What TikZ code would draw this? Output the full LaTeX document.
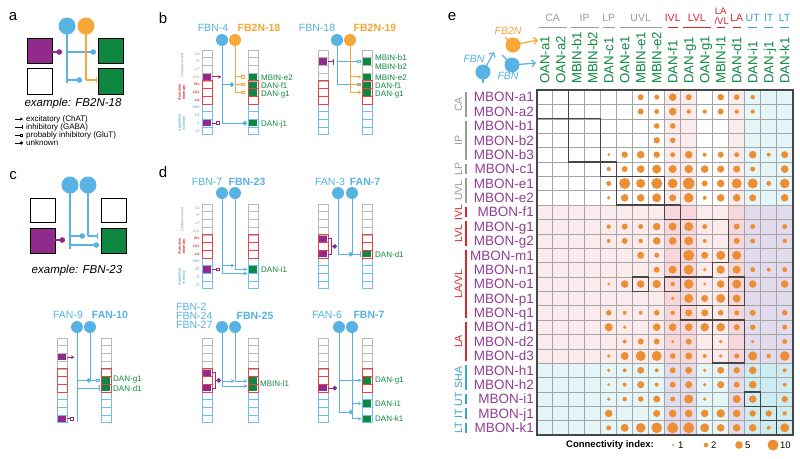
\documentclass[tikz,border=0pt]{standalone}
\usepackage{fontspec}
\setmainfont{Liberation Sans}
\usetikzlibrary{arrows.meta}
\definecolor{nblue}{RGB}{88,178,228}
\definecolor{norange}{RGB}{245,168,55}
\definecolor{npurple}{RGB}{146,42,140}
\definecolor{ngreen}{RGB}{14,136,64}
\definecolor{cred}{RGB}{222,36,44}
\definecolor{cgray}{RGB}{155,155,155}
\definecolor{cblue}{RGB}{60,160,210}
\definecolor{dotc}{RGB}{236,142,52}
\definecolor{mbon}{RGB}{146,62,150}
\definecolor{pinkA}{RGB}{252,235,237}
\definecolor{pinkB}{RGB}{247,214,220}
\definecolor{cyanA}{RGB}{229,246,249}
\definecolor{cyanB}{RGB}{206,237,243}
\definecolor{lav}{RGB}{226,219,238}
\definecolor{gridc}{RGB}{165,165,165}
\definecolor{boxc}{RGB}{70,70,70}
\newcommand{\myfs}[1]{\fontsize{#1}{#1}\selectfont}
\tikzset{
 plab/.style={font=\myfs{15}, inner sep=0},
 nlab/.style={font=\myfs{10.5}, text=nblue, inner sep=0},
 nlabB/.style={font=\myfs{10.5}\bfseries, text=nblue, inner sep=0},
 olabB/.style={font=\myfs{10.5}\bfseries, text=norange, inner sep=0},
 glab/.style={font=\myfs{8}, text=ngreen, anchor=west, inner sep=0},
 nbt/.style={draw=nblue, line width=1pt},
 obt/.style={draw=norange, line width=1pt},
 npt/.style={draw=npurple, line width=1pt},
 nbw/.style={draw=nblue, line width=1.5pt},
 obw/.style={draw=norange, line width=1.5pt},
 npw/.style={draw=npurple, line width=1.5pt},
 exc/.style={-{Stealth[length=3.5pt,width=3.5pt]}},
 inh/.style={-{Bar[width=6pt]}},
 pinh/.style={-{Square[open,length=3.6pt,width=3.6pt]}},
 unk/.style={-{Circle[length=4.5pt]}},
 unkw/.style={-{Circle[length=5.5pt]}},
 barb/.style={-{Straight Barb[length=3.5pt,width=7pt]}},
 gcell/.style={draw=gray!55, line width=0.5pt},
 rcell/.style={draw=cred!85, line width=0.7pt},
 bcell/.style={draw=nblue!85, line width=0.6pt},
 sq/.style={draw=black, line width=0.8pt},
 boxl/.style={draw=boxc, line width=1.4pt},
 collbl/.style={rotate=90, anchor=base west, font=\myfs{13.2}, text=ngreen, inner sep=0},
 rowlbl/.style={anchor=base east, font=\myfs{13.5}, text=mbon, inner sep=0},
}
\newcommand{\mystk}[2]{%
  \foreach \ii in {0,1,2,3}{\draw[gcell] (#1,{#2+\ii*7.7}) rectangle ++(10,7.7);}%
  \foreach \ii in {7,8,9,10}{\draw[bcell] (#1,{#2+\ii*7.7}) rectangle ++(10,7.7);}%
  \foreach \ii in {4,5,6}{\draw[rcell] (#1,{#2+\ii*7.7}) rectangle ++(10,7.7);}%
}
\newcommand{\myfc}[4]{\fill[#4] ({#1+0.7},{#2+(#3-1)*7.7+0.7}) rectangle ({#1+9.3},{#2+#3*7.7-0.7});}
\newcommand{\mylbls}[2]{%
  \foreach \nn [count=\ii] in {CA,IP,LP,UVL}{\node[font=\myfs{3.6}, text=cgray, anchor=east, inner sep=0] at ({#1-2},{#2+(\ii-0.5)*7.7}) {\nn};}%
  \foreach \nn [count=\ii from 5] in {IVL,LVL,LA}{\node[font=\myfs{3.6}\bfseries, text=cred, anchor=east, inner sep=0] at ({#1-2},{#2+(\ii-0.5)*7.7}) {\nn};}%
  \foreach \nn [count=\ii from 8] in {SHA,UT,IT,LT}{\node[font=\myfs{3.6}, text=cblue, anchor=east, inner sep=0] at ({#1-2},{#2+(\ii-0.5)*7.7}) {\nn};}%
  \node[rotate=90, font=\fontsize{3.8}{4.4}\selectfont, text=cgray, align=center, inner sep=0] at ({#1-20},{#2+2*7.7}) {Undetermined};%
  \node[rotate=90, font=\fontsize{3.8}{4.4}\selectfont\bfseries, text=cred, align=center, inner sep=0] at ({#1-20},{#2+5.5*7.7}) {Aversive\\memory};%
  \node[rotate=90, font=\fontsize{3.8}{4.4}\selectfont, text=cblue, align=center, inner sep=0] at ({#1-20},{#2+9.5*7.7}) {Appetitive\\memory};%
}
\newcommand{\mshd}[5]{\fill[#5] ({536.7+16*#1},{90+14.375*#3}) rectangle ({536.7+16*#2},{90+14.375*#4});}
\newcommand{\mbx}[4]{\draw[boxl] ({536.7+16*#1},{90+14.375*#3}) rectangle ({536.7+16*#2},{90+14.375*#4});}
\begin{document}
\begin{tikzpicture}[x=1pt,y=-1pt]
\useasboundingbox (0,0) rectangle (800,458);
\fill[white] (0,0) rectangle (800,458);

% ================= panel a =================
\node[plab] (pa) at (13,17) {a};
\fill[npurple] (27,38) rectangle (52,63); \draw[sq] (27,38) rectangle (52,63);
\draw[sq] (27,68) rectangle (52,94);
\fill[ngreen] (98,38) rectangle (123,63); \draw[sq] (98,38) rectangle (123,63);
\fill[ngreen] (98,68) rectangle (123,94); \draw[sq] (98,68) rectangle (123,94);
\draw[nbw] (67,27) -- (67,83);
\draw[nbw, unkw] (67,52) -- (96,52);
\draw[nbw, unkw] (67,80) -- (82,80);
\draw[obw] (86,27) -- (86,80);
\draw[obw, inh] (86,80) -- (97,80);
\draw[npw, unkw] (52,52) -- (62,52);
\fill[nblue] (67,26) circle[radius=8.5pt];
\fill[norange] (86,26) circle[radius=8.5pt];
\node[font=\myfs{11.5}\itshape, inner sep=0] (exa) at (73,104) {example: FB2N-18};
\draw[line width=0.8pt, -{Stealth[length=3pt,width=3pt]}] (15,119) -- (23,119);
\draw[line width=0.8pt, -{Bar[width=4pt]}] (15,127) -- (23,127);
\draw[line width=0.8pt, -{Square[open,length=3pt,width=3pt]}] (15,135) -- (23,135);
\draw[line width=0.8pt, -{Circle[length=3.2pt]}] (15,143) -- (23,143);
\node[font=\myfs{8}, anchor=west, inner sep=0] at (26,119) {excitatory (ChAT)};
\node[font=\myfs{8}, anchor=west, inner sep=0] at (26,127) {inhibitory (GABA)};
\node[font=\myfs{8}, anchor=west, inner sep=0] at (26,135) {probably inhibitory (GluT)};
\node[font=\myfs{8}, anchor=west, inner sep=0] at (26,143) {unknown};

% ================= panel c =================
\node[plab] (pc) at (13,176) {c};
\draw[sq] (30,198) rectangle (55,222);
\fill[npurple] (30,228) rectangle (55,253); \draw[sq] (30,228) rectangle (55,253);
\draw[sq] (101,198) rectangle (126,222);
\fill[ngreen] (101,228) rectangle (126,253); \draw[sq] (101,228) rectangle (126,253);
\draw[nbw] (70,185) -- (70,249);
\draw[nbw] (88,185) -- (88,236);
\draw[nbw, unkw] (70,236) -- (85,236);
\draw[nbw, inh] (88,236) -- (98,236);
\draw[nbw, unkw] (70,245) -- (99,245);
\draw[npw, unkw] (55,240) -- (65,240);
\fill[nblue] (70,185) circle[radius=8.5pt];
\fill[nblue] (88,185) circle[radius=8.5pt];
\node[font=\myfs{11.5}\itshape, inner sep=0] (exc23) at (77,271) {example: FBN-23};

% ================= panel b =================
\node[plab] (pb) at (163,18) {b};
% FBN-4 / FB2N-18
\node[nlab] at (213,28) {FBN-4};
\node[olabB] at (259,28) {FB2N-18};
\mystk{202}{50} \mystk{248}{50}
\mylbls{202}{50}
\myfc{202}{50}{4}{npurple} \myfc{202}{50}{10}{npurple}
\myfc{248}{50}{4}{ngreen} \myfc{248}{50}{5}{ngreen} \myfc{248}{50}{6}{ngreen} \myfc{248}{50}{10}{ngreen}
\draw[nbt] (222,40) -- (222,124);
\draw[obt] (235,40) -- (235,92.35);
\draw[npt, exc] (212,76.95) -- (221.5,76.95);
\draw[npt, pinh] (212,123.15) -- (220,123.15);
\draw[nbt, unk] (222,123.15) -- (247,123.15);
\foreach \yy in {76.95,84.65,92.35} \draw[obt, pinh] (235,\yy) -- (245,\yy);
\draw[nbt, unk] (222,84.65) -- (234,84.65);
\fill[nblue] (222,40) circle[radius=6pt];
\fill[norange] (235,40) circle[radius=6pt];
\node[glab] at (261,77.3) {MBIN-e2};
\node[glab] at (261,86) {DAN-f1};
\node[glab] at (261,94.3) {DAN-g1};
\node[glab] at (261,124) {DAN-j1};
% FBN-18 / FB2N-19
\node[nlab] at (317,28) {FBN-18};
\node[olabB] at (375,28) {FB2N-19};
\mystk{318}{50} \mystk{362}{50}
\myfc{318}{50}{2}{npurple}
\myfc{362}{50}{2}{ngreen} \myfc{362}{50}{4}{ngreen} \myfc{362}{50}{5}{ngreen} \myfc{362}{50}{6}{ngreen}
\draw[npt, inh] (328,61.55) -- (334,61.55);
\draw[nbt] (337,40) -- (337,84.65);
\draw[nbt, pinh] (337,61.55) -- (361,61.55);
\draw[nbt, pinh] (337,84.65) -- (361,84.65);
\draw[obt] (350,40) -- (350,92.35);
\foreach \yy in {76.95,84.65,92.35} \draw[obt, exc] (350,\yy) -- (361.5,\yy);
\fill[nblue] (337,40) circle[radius=6pt];
\fill[norange] (350,40) circle[radius=6pt];
\node[glab] at (375,57.3) {MBIN-b1};
\node[glab] at (375,66.7) {MBIN-b2};
\node[glab] at (375,77.3) {MBIN-e2};
\node[glab] at (375,86) {DAN-f1};
\node[glab] at (375,94.3) {DAN-g1};

% ================= panel d =================
\node[plab] (pd) at (163,172) {d};
% FBN-7 / FBN-23
\node[nlab] at (207,182) {FBN-7};
\node[nlabB] at (247,182) {FBN-23};
\mystk{202}{204} \mystk{248}{204}
\mylbls{202}{204}
\myfc{202}{204}{9}{npurple} \myfc{248}{204}{9}{ngreen}
\draw[npt, pinh] (212,269.45) -- (219.5,269.45);
\draw[nbt] (222,193) -- (222,273.5);
\draw[nbt] (235,193) -- (235,269.45);
\draw[nbt, exc] (222,265.5) -- (234.5,265.5);
\draw[nbt, exc] (235,269.45) -- (247.5,269.45);
\draw[nbt, exc] (222,273.5) -- (247.5,273.5);
\fill[nblue] (222,193) circle[radius=6pt];
\fill[nblue] (235,193) circle[radius=6pt];
\node[glab] at (261,269.8) {DAN-i1};
% FAN-3 / FAN-7
\node[nlab] at (330,182) {FAN-3};
\node[nlabB] at (365,182) {FAN-7};
\mystk{318}{204} \mystk{362}{204}
\myfc{318}{204}{5}{npurple} \myfc{318}{204}{7}{npurple} \myfc{362}{204}{7}{ngreen}
\draw[npt] (328,238.65) -- (331,238.65) -- (331,254.05) -- (328,254.05);
\draw[npt, unk] (331,246.35) -- (337,246.35);
\draw[nbt] (338,193) -- (338,254.05);
\draw[nbt] (352,193) -- (352,254.05);
\draw[nbt, unk] (338,254.05) -- (353,254.05);
\draw[nbt, inh] (352,254.05) -- (361,254.05);
\fill[nblue] (338,193) circle[radius=6pt];
\fill[nblue] (352,193) circle[radius=6pt];
\node[glab] at (375,254.4) {DAN-d1};
% FAN-9 / FAN-10
\node[nlab] at (68,315) {FAN-9};
\node[nlabB] at (110,315) {FAN-10};
\mystk{57}{338} \mystk{101}{338}
\myfc{57}{338}{3}{npurple} \myfc{57}{338}{11}{npurple}
\myfc{101}{338}{6}{ngreen} \myfc{101}{338}{7}{ngreen}
\draw[npt, exc] (67,357.25) -- (74.5,357.25);
\draw[npt, pinh] (67,418.85) -- (74,418.85);
\draw[nbt] (77,327) -- (77,422);
\draw[nbt] (90,327) -- (90,380.35);
\draw[nbt, unk] (77,380.35) -- (91,380.35);
\draw[nbt, pinh] (90,380.35) -- (100,380.35);
\draw[nbt, inh] (77,388.05) -- (100,388.05);
\fill[nblue] (77,327) circle[radius=6pt];
\fill[nblue] (90,327) circle[radius=6pt];
\node[glab] at (113,379.5) {DAN-g1};
\node[glab] at (113,388.5) {DAN-d1};
% FBN-2/24/27 / FBN-25
\node[nlab, anchor=west] at (176,307) {FBN-2};
\node[nlab, anchor=west] at (176,316) {FBN-24};
\node[nlab, anchor=west] at (176,325) {FBN-27};
\node[nlabB] at (255,316) {FBN-25};
\mystk{202}{338} \mystk{248}{338}
\myfc{202}{338}{5}{npurple} \myfc{202}{338}{7}{npurple}
\myfc{248}{338}{6}{ngreen} \myfc{248}{338}{7}{ngreen}
\draw[npt] (212,372.65) -- (215,372.65) -- (215,388.05) -- (212,388.05);
\draw[npt, unk] (215,380.35) -- (221,380.35);
\draw[nbt] (222,327) -- (222,386);
\draw[nbt] (235,327) -- (235,381);
\draw[nbt, exc] (222,381) -- (234.5,381);
\draw[nbt, exc] (235,381) -- (247.5,381);
\draw[nbt, exc] (222,386) -- (247.5,386);
\fill[nblue] (222,327) circle[radius=6pt];
\fill[nblue] (235,327) circle[radius=6pt];
\node[glab] at (260,384) {MBIN-l1};
% FAN-6 / FBN-7
\node[nlab] at (327,315) {FAN-6};
\node[nlabB] at (369,315) {FBN-7};
\mystk{318}{338} \mystk{362}{338}
\myfc{318}{338}{7}{npurple}
\myfc{362}{338}{6}{ngreen} \myfc{362}{338}{9}{ngreen} \myfc{362}{338}{11}{ngreen}
\draw[npt, unk] (328,388.05) -- (337,388.05);
\draw[nbt] (339,327) -- (339,412);
\draw[nbt] (352,327) -- (352,418.85);
\draw[nbt, exc] (339,380.35) -- (361.5,380.35);
\draw[nbt, exc] (352,403.45) -- (361.5,403.45);
\draw[nbt, exc] (352,418.85) -- (361.5,418.85);
\draw[nbt, unk] (339,412) -- (353,412);
\fill[nblue] (339,327) circle[radius=6pt];
\fill[nblue] (352,327) circle[radius=6pt];
\node[glab] at (375,381) {DAN-g1};
\node[glab] at (375,404) {DAN-i1};
\node[glab] at (375,419) {DAN-k1};

% ================= panel e =================
\node[plab] (pe) at (452,17) {e};
% icon
\node[font=\myfs{10.5}\itshape, text=norange, inner sep=0] (fbtwo) at (508,31) {FB2N};
\draw[norange, line width=1.2pt] (513,45) -- (505,37);
\draw[norange, line width=1.2pt, barb] (513,45) -- (538,40);
\fill[norange] (513,45) circle[radius=7.5pt];
\draw[nblue, line width=1.2pt] (512,65) -- (502,55);
\draw[nblue, line width=1.2pt, barb] (512,65) -- (536,63);
\fill[nblue] (512,65) circle[radius=7.5pt];
\draw[nblue, line width=1.2pt] (483,72) -- (483,83);
\draw[nblue, line width=1.2pt, barb] (483,72) -- (494,52);
\fill[nblue] (483,72) circle[radius=7.5pt];
\node[font=\myfs{10.5}\itshape, text=nblue, inner sep=0] (fbna) at (474,58.5) {FBN};
\node[font=\myfs{10.5}\itshape, text=nblue, inner sep=0] (fbnb) at (508,75.5) {FBN};
% shading
\mshd{8}{10}{0}{8}{pinkA}
\mshd{12}{13}{0}{8}{pinkA}
\mshd{13}{16}{0}{8}{cyanA}
\mshd{0}{8}{8}{19}{pinkA}
\mshd{10}{12}{8}{19}{pinkA}
\mshd{8}{10}{8}{19}{pinkB}
\mshd{12}{13}{8}{19}{pinkB}
\mshd{13}{16}{8}{19}{lav}
\mshd{0}{8}{19}{24}{cyanA}
\mshd{10}{12}{19}{24}{cyanA}
\mshd{8}{10}{19}{24}{lav}
\mshd{12}{13}{19}{24}{lav}
\mshd{13}{16}{19}{24}{cyanB}
% grid
\foreach \k in {1,...,15} \draw[gridc, line width=0.45pt] ({536.7+16*\k},90) -- ({536.7+16*\k},435);
\foreach \k in {1,...,23} \draw[gridc, line width=0.45pt] (536.7,{90+14.375*\k}) -- (792.7,{90+14.375*\k});
% dots
\foreach \c/\r/\s in {
7/1/3.0,8/1/2.5,9/1/3.8,10/1/3.0,12/1/3.3,13/1/2.8,14/1/2.2,
7/2/3.0,8/2/2.5,9/2/3.8,10/2/2.2,11/2/2.2,12/2/3.0,13/2/2.2,14/2/2.2,
8/3/2.8,9/3/2.8,
8/4/3.2,9/4/2.8,
5/5/1.5,6/5/3.2,7/5/3.8,8/5/3.2,9/5/2.5,10/5/3.8,11/5/2.0,12/5/3.0,13/5/2.5,14/5/3.8,15/5/2.0,16/5/3.5,
5/6/2.2,6/6/3.0,7/6/3.8,8/6/4.5,9/6/4.0,10/6/4.2,11/6/3.8,12/6/3.5,13/6/3.5,14/6/2.5,16/6/3.8,
5/7/2.5,6/7/5.5,7/7/4.5,8/7/5.5,9/7/4.8,10/7/5.7,11/7/3.0,12/7/3.8,13/7/5.0,14/7/5.0,15/7/2.5,16/7/4.8,
5/8/1.8,6/8/3.8,7/8/3.8,8/8/4.5,9/8/3.5,10/8/4.8,11/8/2.0,12/8/3.8,13/8/3.8,14/8/3.5,16/8/3.8,
5/10/2.2,6/10/3.0,7/10/2.5,8/10/3.8,9/10/4.0,10/10/4.5,11/10/2.5,13/10/3.0,14/10/2.5,16/10/2.5,
5/11/2.0,6/11/3.0,7/11/2.2,8/11/3.8,9/11/3.8,10/11/4.5,11/11/2.0,13/11/3.0,14/11/2.5,16/11/2.2,
7/12/3.5,8/12/2.5,10/12/5.5,11/12/3.5,12/12/4.5,13/12/4.5,
8/13/3.0,9/13/4.0,10/13/4.8,11/13/1.8,12/13/4.2,13/13/4.0,14/13/2.5,15/13/2.0,16/13/2.5,
5/14/1.5,6/14/3.8,7/14/3.8,8/14/4.2,9/14/2.2,10/14/4.8,11/14/1.5,12/14/3.8,13/14/4.5,14/14/3.8,16/14/3.8,
9/15/1.8,10/15/4.5,11/15/3.5,12/15/4.5,13/15/4.0,
5/16/2.8,6/16/2.0,7/16/2.0,8/16/2.8,9/16/2.2,10/16/3.5,11/16/3.5,12/16/2.8,13/16/2.5,14/16/3.0,16/16/2.8,
5/17/4.0,6/17/1.8,8/17/3.8,9/17/3.8,10/17/3.8,11/17/4.2,12/17/4.2,13/17/3.0,14/17/2.8,16/17/2.5,
6/18/2.0,7/18/3.0,8/18/3.0,9/18/1.5,10/18/3.0,12/18/1.8,14/18/1.8,16/18/2.5,
5/19/1.8,6/19/4.0,7/19/5.0,8/19/5.0,9/19/2.8,10/19/3.5,11/19/2.0,12/19/1.8,13/19/2.5,14/19/4.5,15/19/2.2,16/19/4.8,
5/20/1.8,6/20/2.0,7/20/3.5,8/20/2.0,9/20/3.0,10/20/3.5,11/20/1.8,12/20/3.5,13/20/3.2,14/20/3.8,16/20/2.0,
5/21/1.5,6/21/2.0,7/21/3.5,8/21/2.0,9/21/3.0,10/21/3.5,11/21/1.8,12/21/3.5,13/21/3.0,14/21/3.8,16/21/2.0,
5/22/1.8,6/22/2.2,7/22/2.8,8/22/3.5,9/22/2.5,10/22/4.5,11/22/1.8,13/22/4.0,14/22/3.8,16/22/3.2,
5/23/3.8,8/23/3.5,9/23/3.8,10/23/3.8,11/23/3.8,12/23/4.2,13/23/3.8,14/23/3.2,15/23/3.2,16/23/2.2,
5/24/2.5,6/24/4.0,7/24/4.8,8/24/5.3,9/24/5.5,10/24/5.5,11/24/4.5,12/24/3.8,13/24/3.8,14/24/3.8,15/24/2.0,16/24/4.5}
  \fill[dotc] ({536.7+16*(\c-0.5)},{90+14.375*(\r-0.5)}) circle[radius=\s pt];
% compartment boxes
\mbx{0}{2}{0}{2}
\mbx{2}{4}{2}{5}
\mbx{4}{5}{5}{6}
\mbx{5}{8}{6}{8}
\mbx{8}{9}{8}{9}
\draw[boxl] ({536.7+16*9},{90+14.375*9}) -- ({536.7+16*12},{90+14.375*9}) -- ({536.7+16*12},{90+14.375*12}) -- ({536.7+16*11},{90+14.375*12}) -- ({536.7+16*11},{90+14.375*13}) -- ({536.7+16*9},{90+14.375*13}) -- cycle;
\mbx{6}{7}{13}{14}
\mbx{8}{9}{13}{14}
\mbx{12}{13}{13}{15}
\mbx{9}{11}{15}{16}
\mbx{11}{13}{16}{19}
\mbx{13}{14}{21}{22}
\mbx{14}{15}{22}{23}
\mbx{15}{16}{23}{24}
\draw[boxc, line width=1.6pt] (536.7,90) rectangle (792.7,435);
% column labels
\foreach \n [count=\i] in {OAN-a1,OAN-a2,MBIN-b1,MBIN-b2,DAN-c1,OAN-e1,MBIN-e1,MBIN-e2,DAN-f1,DAN-g1,OAN-g1,MBIN-l1,DAN-d1,DAN-i1,DAN-j1,DAN-k1}
  \node[collbl] at ({536.7+16*(\i-0.5)+4.7},84) {\n};
% row labels
\foreach \n [count=\i] in {MBON-a1,MBON-a2,MBON-b1,MBON-b2,MBON-b3,MBON-c1,MBON-e1,MBON-e2,MBON-f1,MBON-g1,MBON-g2,MBON-m1,MBON-n1,MBON-o1,MBON-p1,MBON-q1,MBON-d1,MBON-d2,MBON-d3,MBON-h1,MBON-h2,MBON-i1,MBON-j1,MBON-k1}
  \node[rowlbl] at (534,{90+14.375*(\i-0.5)+4.8}) {\n};
% header compartment labels
\foreach \t/\a/\b/\cc in {CA/0/2/cgray,IP/2/4/cgray,LP/4/5/cgray,UVL/5/8/cgray,IVL/8/9/cred,LVL/9/11/cred,LA/12/13/cred,UT/13/14/cblue,IT/14/15/cblue,LT/15/16/cblue}
  \node[font=\myfs{10.5}, text=\cc, inner sep=0] at ({536.7+8*(\a+\b)},18) {\t};
\node[font=\myfs{9.5}, text=cred, inner sep=0] at (720.7,11.5) {LA};
\node[font=\myfs{9.5}, text=cred, inner sep=0] at (721.7,21) {/VL};
\foreach \a/\b/\cc in {538.5/567/cgray,570.5/598.5/cgray,603/615/cgray,619.5/662/cgray,668/677.5/cred,682.5/710.5/cred,716.5/725/cred,732.5/741/cred,748/757/cblue,764/773/cblue,780/789/cblue}
  \draw[\cc, line width=1.4pt] (\a,27.5) -- (\b,27.5);
% side compartment labels
\foreach \t/\a/\b/\cc in {CA/0/2/cgray,IP/2/5/cgray,LP/5/6/cgray,UVL/6/8/cgray,IVL/8/9/cred,LVL/9/11/cred,{LA/VL}/11/16/cred,LA/16/19/cred,SHA/19/21/cblue,UT/21/22/cblue,IT/22/23/cblue,LT/23/24/cblue}
{
  \node[rotate=90, anchor=base, font=\myfs{10.5}, text=\cc, inner sep=0] at (462,{90+14.375*(\a+\b)/2}) {\t};
  \draw[\cc, line width=1.1pt] (466,{90+14.375*\a+2}) -- (466,{90+14.375*\b-2});
}
% legend
\node[font=\myfs{9.5}\bfseries, anchor=west, inner sep=0] (cilab) at (566,445) {Connectivity index:};
\fill[dotc] (673,445) circle[radius=1.1pt];
\node[font=\myfs{9.5}, anchor=west, inner sep=0] at (678,445.5) {1};
\fill[dotc] (706,445) circle[radius=2.3pt];
\node[font=\myfs{9.5}, anchor=west, inner sep=0] at (711,445.5) {2};
\fill[dotc] (739,445) circle[radius=3.8pt];
\node[font=\myfs{9.5}, anchor=west, inner sep=0] at (745,445.5) {5};
\fill[dotc] (773,445) circle[radius=5.5pt];
\node[font=\myfs{9.5}, anchor=west, inner sep=0] at (780,445.5) {10};
\end{tikzpicture}
\end{document}
